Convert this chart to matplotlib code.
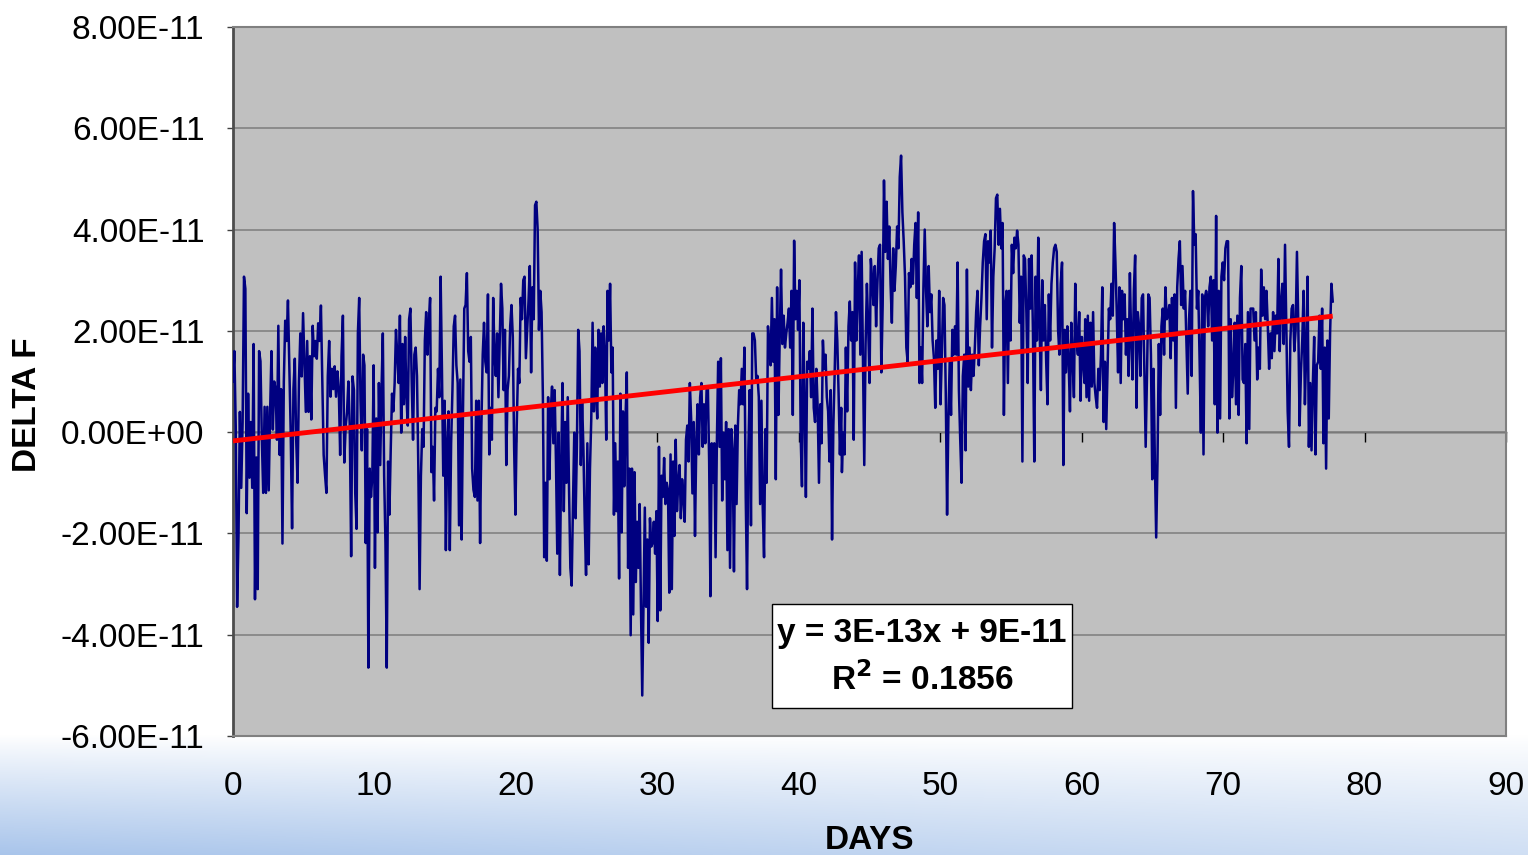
"""
DELTA F vs DAYS, Excel-style line chart with linear trendline.
"""

import numpy as np
import matplotlib
matplotlib.use("Agg")
import matplotlib.pyplot as plt

plt.rcParams["font.family"] = ["Liberation Sans", "DejaVu Sans"]

# ---------------------------------------------------------------------------
# Data: DELTA F readings in units of 1e-11, read stretch by stretch
# ---------------------------------------------------------------------------

UNIT = 1e-11

seg_days = [(0.0, 8.45), (8.55, 17.0), (17.1, 25.7), (25.75, 34.3),
            (34.4, 43.0), (43.05, 51.6), (51.7, 60.2), (60.25, 68.8),
            (68.85, 77.75)]

seg1 = [1.0, 1.6, 0.1, -3.45, -2.05, 0.4, -1.1, 0.2, 3.07, 2.83, -1.6, 0.76,
        -0.9, 0.2, -1.1, 1.74, -3.3, -0.5, -3.1, 1.6, 1.4, -0.15, -1.2, 0.5,
        -1.2, 0.5, -1.15, 0.4, 1.6, 0.05, 1.0, 0.85, -0.15, 2.1, -0.45, 0.85,
        -2.2, 1.0, 2.2, 1.8, 2.6, 1.25, 0.0, -1.9, 0.85, 1.45, -0.15, -1.0,
        1.0, 1.95, 1.1, 2.35, 1.4, 0.4, 1.8, 0.4, 1.5, 0.25, 2.1, 1.5, 1.8,
        1.45, 2.15, 1.8, 2.5, 1.0, -0.45, -0.85, -1.2, 1.1, 1.8, 0.7, 1.25,
        0.85, 1.3, 0.7, 1.2, 0.85, -0.45, 1.5, 2.3, -0.6, 0.1, 0.4, 1.0, 0.1,
        -2.45, 1.1]

seg2 = [0.83, -1.21, -1.91, 1.95, 2.65, 0.62, -0.36, 1.53, 1.32, -2.19, 0.06,
        -4.65, -0.72, -1.28, -0.86, 1.32, -2.68, 0.27, -1.98, 0.97, -0.65,
        0.83, 1.95, -0.86, -2.19, -4.65, -0.58, -1.63, -0.36, 0.76, 0.41, 0.97,
        2.02, 1.53, 0.97, 2.3, -0.01, 1.74, 0.55, 1.88, 0.69, 0.13, 2.23, 2.44,
        0.97, -0.15, 1.53, 1.67, 1.11, -0.65, -3.1, -0.86, 0.06, -0.29, 1.81,
        2.37, 1.53, 2.16, 2.65, -0.79, -0.29, -1.35, 0.48, 0.41, 1.25, 0.69,
        3.07, 1.25, -0.86, 0.62, -2.33, -0.22, 0.41, -2.33, -0.22, 0.83, 2.09,
        2.3, 1.32, 0.97, -1.84, 1.04, -2.12, 0.34, 2.44, 2.51, 3.14, 1.6, 1.39,
        1.88, -0.72, -1.14]

seg3 = [-1.28, 0.62, -1.35, 0.62, -2.19, 0.13, 1.53, 2.16, 1.39, 1.18, 2.72,
        -0.44, 0.48, -0.15, 2.65, 1.53, 1.11, 1.95, 0.69, 1.81, 2.93, 2.44,
        0.83, 2.02, -0.65, 0.83, 1.11, 2.09, 2.51, 1.88, -0.29, -1.63, 0.13,
        1.25, 0.97, 2.65, 2.23, 3.0, 3.07, 1.46, 2.02, 2.58, 3.28, 1.18, 2.86,
        2.23, 4.48, 4.55, 4.0, 2.02, 2.79, 2.37, 0.69, -2.47, -1.0, -2.54,
        0.69, -0.93, 0.41, 0.9, -0.22, 0.83, -0.58, -2.4, -0.01, -2.82, -0.58,
        0.97, -1.56, 0.2, -1.0, 0.69, -1.14, -2.68, -3.03, -1.42, -0.01, -1.7,
        -0.29, 2.02, 1.6, -0.65, 0.62, -0.36, -1.77, -2.82, -0.22, -2.61,
        -0.72, 0.27, 2.16, 0.41, 1.67, 0.62]

seg4 = [0.27, 2.02, 0.9, 1.95, 0.97, 2.09, 1.53, -0.15, 2.79, 1.81, 2.93,
        1.18, 1.67, -1.63, -0.22, -1.56, -0.58, -2.89, 0.76, -1.98, 0.41,
        -1.07, 0.27, 1.18, -2.68, -0.72, -4.01, -0.72, -3.6, -0.79, -2.96,
        -1.77, -2.68, -1.42, -3.45, -5.2, -3.42, -1.49, -3.45, -2.12, -4.16,
        -1.7, -2.26, -2.19, -1.77, -2.4, -1.56, -3.73, -0.29, -3.52, -0.86,
        -1.28, -0.51, -1.42, -1.0, -1.14, -3.17, -0.44, -3.1, -0.58, -2.05,
        -0.15, -1.56, -1.0, -0.65, -1.7, -0.93, -1.28, -1.77, -0.15, 0.13,
        -0.58, 0.97, 0.27, -1.21, 0.2, -2.05, -0.22, 0.55, -0.44, 0.69, 0.97,
        -0.29, 0.55, -0.22, 0.83, 0.9, -0.58, -3.24, -0.22, -1.0, -0.22,
        -2.47, -0.22, 1.39]

seg5 = [-0.29, 1.46, -1.35, -0.01, -0.93, 0.2, -2.33, 0.06, -2.68, 0.06,
        -0.36, -2.75, 0.13, -1.42, 0.13, 0.83, 0.55, 1.25, 0.55, 1.67, -1.28,
        -3.1, -0.36, 0.83, -1.84, 1.95, 1.95, 1.81, 1.04, 1.11, 0.69, -1.42,
        0.62, -1.49, -2.47, 0.06, -1.0, 2.09, 1.74, 1.32, 2.65, 1.39, 2.23,
        -0.93, 2.86, 0.34, 1.88, 3.21, 1.74, 2.3, 1.67, 1.95, 2.16, 2.44, 1.67,
        2.79, 0.34, 3.78, 2.23, 2.79, 2.02, 3.0, -0.08, -1.07, 2.16, 0.55,
        -1.28, 1.39, 1.25, 1.6, 0.69, 2.44, 0.48, 0.2, 1.25, 0.48, -1.0, 0.55,
        -0.22, 1.81, 1.25, 1.53, 0.69, 0.41, -0.58, 0.83, -2.12, 0.13, 1.18,
        2.37, 1.81, 0.76, -0.44, 0.48]

seg6 = [-0.79, -0.01, -0.44, 1.67, 0.41, 2.09, 2.58, 1.81, 2.37, -0.15, 3.35,
        1.81, 2.79, 3.49, 1.53, 3.56, 1.39, -0.65, 1.74, 2.93, 2.09, 0.97,
        3.42, 3.0, 2.51, 3.28, 2.09, 2.93, 3.63, 3.7, 1.18, 2.51, 4.97, 3.56,
        4.55, 3.42, 4.06, 2.93, 2.16, 3.63, 2.79, 3.28, 4.06, 3.63, 5.04, 5.46,
        4.34, 3.77, 3.07, 1.67, 1.39, 3.14, 2.86, 3.42, 2.93, 3.7, 4.13, 2.65,
        4.34, 0.97, 1.67, 0.97, 2.86, 4.0, 2.79, 2.09, 3.28, 2.37, 2.72, 1.81,
        1.46, 0.48, 1.81, 1.25, 2.79, 0.55, 1.53, 2.65, 2.51, 0.76, -1.63,
        0.27, 1.39, 0.34, 2.02, 1.53, 2.09, 1.53, 3.35, 0.83, -0.15, -1.0,
        1.11]

seg7 = [1.53, -0.36, 3.21, 0.9, 1.67, 0.83, 1.53, 1.11, 1.67, 2.37, 2.79,
        1.32, 2.09, 2.65, 3.35, 3.77, 3.91, 2.23, 3.77, 3.35, 3.98, 1.67, 3.07,
        3.63, 4.62, 4.69, 3.7, 4.41, 3.63, 4.13, 0.34, 2.51, 2.79, 0.97, 2.79,
        1.81, 3.7, 3.14, 3.84, 3.63, 3.98, 3.7, 2.16, 3.07, -0.58, 3.49, 3.42,
        2.37, 0.97, 3.42, 2.44, 3.49, 1.95, -0.58, 3.07, 1.81, 3.84, 2.09,
        0.83, 3.0, 1.81, 2.51, 1.39, 0.55, 2.72, 1.81, 2.93, 3.35, 3.63, 3.7,
        3.56, 2.02, 1.53, 2.93, 3.35, -0.65, 2.02, 1.18, 2.09, 1.39, 0.41,
        2.16, 1.46, 0.69, 2.93, 1.81, 1.53, 2.37, 0.62, 1.88, 1.39, 0.97]

seg8 = [2.23, 0.69, 2.3, 0.62, 2.16, 0.9, 2.37, 0.97, 0.69, 0.48, 1.25, 0.83,
        1.53, 2.86, 0.2, 1.39, 0.06, 1.25, 2.44, 2.23, 2.93, 2.3, 4.13, 3.35,
        2.37, 1.18, 2.86, 0.97, 2.79, 2.23, 2.72, 1.53, 2.23, 1.11, 3.14, 1.81,
        1.04, 2.79, 3.49, 0.48, 2.37, 2.09, 1.11, 2.65, 2.72, 1.25, -0.29,
        1.11, 2.72, 2.65, 1.53, -0.93, 1.25, -0.58, -2.08, -0.58, 1.74, 0.34,
        2.09, 2.44, 1.53, 2.86, 2.23, 2.3, 2.51, 1.46, 2.65, 1.81, 2.72, 0.48,
        2.86, 3.42, 3.77, 2.51, 3.28, 2.44, 2.79, 1.81, 0.76, 2.23, 2.79, 1.11,
        4.76, 3.7, 3.91, 2.44, 2.79, 1.46, -0.01, 2.72, -0.44, 2.65, 2.79]

seg9 = [2.72, 2.09, 2.86, 3.07, 1.81, 3.0, 0.55, 4.27, -0.01, 2.79, 0.27,
        3.07, 3.35, 3.0, 3.63, 3.77, 3.77, 0.27, 2.23, 0.69, 1.25, 2.16, 0.55,
        2.3, 0.34, 2.65, 3.28, 1.04, 0.97, 1.74, -0.22, 2.37, 0.06, 2.44, 2.44,
        2.44, 1.81, 2.37, 1.04, 1.67, 1.25, 3.21, 2.3, 2.86, 2.23, 2.79, 2.09,
        1.25, 1.95, 1.46, 2.37, 1.6, 2.3, 1.95, 3.42, 1.6, 2.58, 2.93, 1.74,
        3.7, 2.09, 0.41, -0.29, 1.81, 2.44, 2.51, 1.6, 2.02, 3.56, 2.16, 0.13,
        1.18, 1.81, 2.79, 0.55, 1.6, 3.07, -0.29, 0.97, -0.36, 0.97, 1.88,
        -0.44, 1.32, 1.39, 2.3, 1.25, 2.44, -0.22, 1.67, -0.72, 1.81, 0.27,
        1.95, 2.93, 2.58]

segments = [seg1, seg2, seg3, seg4, seg5, seg6, seg7, seg8, seg9]

x_ticks = [0, 10, 20, 30, 40, 50, 60, 70, 80, 90]
y_ticks = [-6e-11, -4e-11, -2e-11, 0.0, 2e-11, 4e-11, 6e-11, 8e-11]

eq_line = "y = 3E-13x + 9E-11"
r2_line = r"R$^{\mathbf{2}}$ = 0.1856"


# ---------------------------------------------------------------------------
# Figure
# ---------------------------------------------------------------------------

days = np.concatenate([np.linspace(a, b, len(s))
                       for (a, b), s in zip(seg_days, segments)])
delta_f = np.concatenate([np.asarray(s) for s in segments]) * UNIT

W, H = 1528, 855
FS = 24
fig = plt.figure(figsize=(W / 100, H / 100), dpi=100, facecolor="white")

# slide background: white fading into light blue at the bottom
rows = np.arange(H)[:, None]
cols = np.arange(W)[None, :]
t = np.clip((rows - 735) / 120.0, 0, 1) ** 0.9
t = t * (1.0 - 0.45 * cols / W)
white = np.array([1.0, 1.0, 1.0])
blue = np.array([0.66, 0.77, 0.92])
img = white * (1 - t[..., None]) + blue * t[..., None]
bg = fig.add_axes([0, 0, 1, 1], zorder=-10)
bg.imshow(img, aspect="auto", extent=[0, 1, 0, 1], origin="upper")
bg.axis("off")

ax = fig.add_axes([233 / W, 1 - 736 / H, (1506 - 233) / W, (736 - 27) / H])
ax.set_facecolor("#C0C0C0")

ax.set_xlim(x_ticks[0], x_ticks[-1])
ax.set_ylim(y_ticks[0], y_ticks[-1])
ax.set_yticks(y_ticks)
ax.set_yticklabels([f"{v:.2E}" for v in y_ticks])
ax.set_xticks(x_ticks)
ax.set_xticklabels([str(v) for v in x_ticks])
ax.tick_params(axis="y", direction="out", length=4.5, width=1,
               color="#404040", pad=16, labelsize=FS)
ax.tick_params(axis="x", length=0, pad=25, labelsize=FS)

ax.grid(axis="y", color="#878787", lw=1.3)
ax.set_axisbelow(True)
for side in ("top", "right", "bottom"):
    ax.spines[side].set_color("#808080")
    ax.spines[side].set_linewidth(1.5)
ax.spines["left"].set_color("#4d4d4d")
ax.spines["left"].set_linewidth(2)

# x axis line crossing at zero, with its tick marks
zero_frac = (0 - y_ticks[0]) / (y_ticks[-1] - y_ticks[0])
zax = ax.secondary_xaxis(zero_frac)
zax.set_xticks(x_ticks)
zax.xaxis.set_ticks_position("bottom")
zax.tick_params(direction="out", length=7, width=1, color="black",
                labelbottom=False, labeltop=False)
zax.spines["bottom"].set_visible(True)
zax.spines["bottom"].set_color("black")
zax.spines["bottom"].set_linewidth(1)
zax.spines["top"].set_visible(False)

ax.plot(days, delta_f, color="#000080", lw=1.8, zorder=3)

# linear trendline over the data range
slope, intercept = np.polyfit(days, delta_f, 1)
trend_x = np.array([days.min(), days.max()])
ax.plot(trend_x, slope * trend_x + intercept, color="#FF0000", lw=3.5,
        zorder=4, solid_capstyle="butt")

# trendline equation box
box_l, box_b = (772 - 233) / 1273, (736 - 708) / 709
box_w, box_h = 300 / 1273, 104 / 709
ax.add_patch(plt.Rectangle((box_l, box_b), box_w, box_h,
                           transform=ax.transAxes, facecolor="white",
                           edgecolor="black", lw=1, zorder=5))
cx = box_l + box_w / 2
ax.text(cx, box_b + box_h * 0.72, eq_line, transform=ax.transAxes,
        ha="center", va="center", fontsize=FS, fontweight="bold", zorder=6)
with plt.rc_context({"mathtext.fontset": "custom",
                     "mathtext.bf": "Liberation Sans:bold"}):
    ax.text(cx, box_b + box_h * 0.27, r2_line, transform=ax.transAxes,
            ha="center", va="center", fontsize=FS, fontweight="bold",
            zorder=6)

fig.text(27 / W, 1 - 405 / H, "DELTA F", rotation=90, ha="center",
         va="center", fontsize=FS, fontweight="bold")
fig.text(869 / W, 1 - 840 / H, "DAYS", ha="center", va="center",
         fontsize=FS, fontweight="bold")

fig.savefig("out.png", dpi=100, facecolor=fig.get_facecolor())
